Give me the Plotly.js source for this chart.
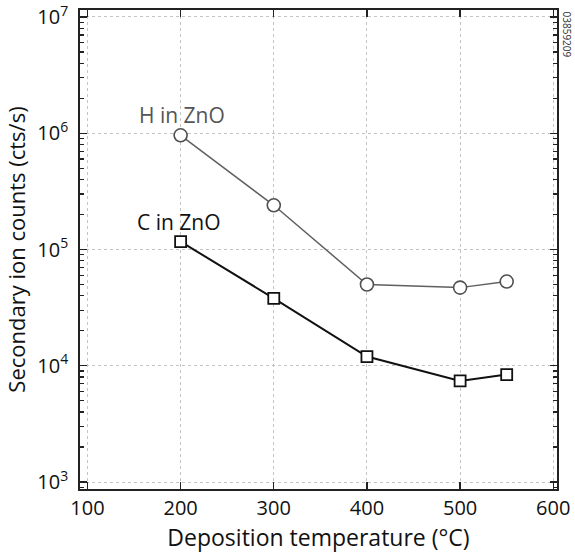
<!DOCTYPE html>
<html><head><meta charset="utf-8">
<script src="https://cdn.plot.ly/plotly-3.0.1.min.js"></script>
<style>html,body{margin:0;padding:0;background:#fff}#c{width:575px;height:555px}</style>
</head><body><div id="c"></div>
<script>
const temps = [200, 300, 400, 500, 550];
const hCounts = [9.6e5, 2.4e5, 5.0e4, 4.7e4, 5.3e4];
const cCounts = [1.17e5, 3.8e4, 1.2e4, 7.4e3, 8.4e3];
const xTicks = [100, 200, 300, 400, 500, 600];
const yTickVals = [1e3, 1e4, 1e5, 1e6, 1e7];
const yTickText = ['10<sup>3</sup>', '10<sup>4</sup>', '10<sup>5</sup>', '10<sup>6</sup>', '10<sup>7</sup>'];
const hLabel = 'H in ZnO';
const cLabel = 'C in ZnO';
const figId = '03859209';

const font = 'Open Sans, Noto Sans, sans-serif';
const yRange = [2.94, 7.06];
const traces = [
  {x: temps, y: hCounts, mode: 'lines+markers', type: 'scatter',
   line: {color: '#606060', width: 1.5},
   marker: {symbol: 'circle', size: 13, color: '#fff', line: {width: 1.6, color: '#505050'}}},
  {x: temps, y: cCounts, mode: 'lines+markers', type: 'scatter',
   line: {color: '#111', width: 2},
   marker: {symbol: 'square', size: 11, color: '#fff', line: {width: 1.8, color: '#111'}}},
  {x: [temps[0]], y: [hCounts[0]], yaxis: 'y2', mode: 'markers', type: 'scatter',
   marker: {opacity: 0}, hoverinfo: 'skip'}
];
const axLine = {showline: true, linecolor: '#222', linewidth: 1.8};
const layout = {
  width: 575, height: 555,
  margin: {l: 80, r: 18, t: 10, b: 66},
  showlegend: false,
  paper_bgcolor: '#fff', plot_bgcolor: '#fff',
  font: {family: font, color: '#111', size: 20},
  xaxis: Object.assign({range: [92, 604], tickvals: xTicks, ticks: 'inside', ticklen: 7,
          mirror: 'ticks', tickcolor: '#222', tickwidth: 1.3,
          showgrid: true, gridcolor: '#c4c4c4', griddash: 'dot', gridwidth: 1,
          zeroline: false, tickfont: {size: 20},
          title: {text: 'Deposition temperature (°C)', font: {size: 23}, standoff: 5}}, axLine),
  yaxis: Object.assign({type: 'log', range: yRange, tickvals: yTickVals, ticktext: yTickText,
          ticks: 'inside', ticklen: 7, mirror: true, tickcolor: '#222', tickwidth: 1.3,
          ticklabelstandoff: 6,
          showgrid: true, gridcolor: '#c4c4c4', griddash: 'dot', gridwidth: 1,
          zeroline: false, tickfont: {size: 20},
          minor: {ticks: 'inside', ticklen: 4, dtick: 'D1', showgrid: false, tickcolor: '#222'},
          title: {text: 'Secondary ion counts (cts/s)', font: {size: 22}, standoff: 6}}, axLine),
  yaxis2: {type: 'log', range: yRange, overlaying: 'y', side: 'right', tickvals: yTickVals,
          showticklabels: false, ticks: 'inside', ticklen: 7, tickcolor: '#222', tickwidth: 1.3,
          showgrid: false, zeroline: false, showline: false,
          minor: {ticks: 'inside', ticklen: 4, dtick: 'D1', showgrid: false, tickcolor: '#222'}},
  annotations: [
    {x: 0.214, y: 0.78, xref: 'paper', yref: 'paper', text: hLabel, showarrow: false,
     font: {size: 21, color: '#555'}, xanchor: 'center', yanchor: 'middle'},
    {x: 0.208, y: 0.557, xref: 'paper', yref: 'paper', text: cLabel, showarrow: false,
     font: {size: 21, color: '#111'}, xanchor: 'center', yanchor: 'middle'},
    {xref: 'paper', yref: 'paper', x: 1.022, y: 1.0, yanchor: 'top', xanchor: 'center',
     text: figId, showarrow: false, textangle: 90, font: {size: 10, color: '#333'}}
  ]
};
Plotly.newPlot('c', traces, layout, {displayModeBar: false, staticPlot: true});
</script></body></html>
